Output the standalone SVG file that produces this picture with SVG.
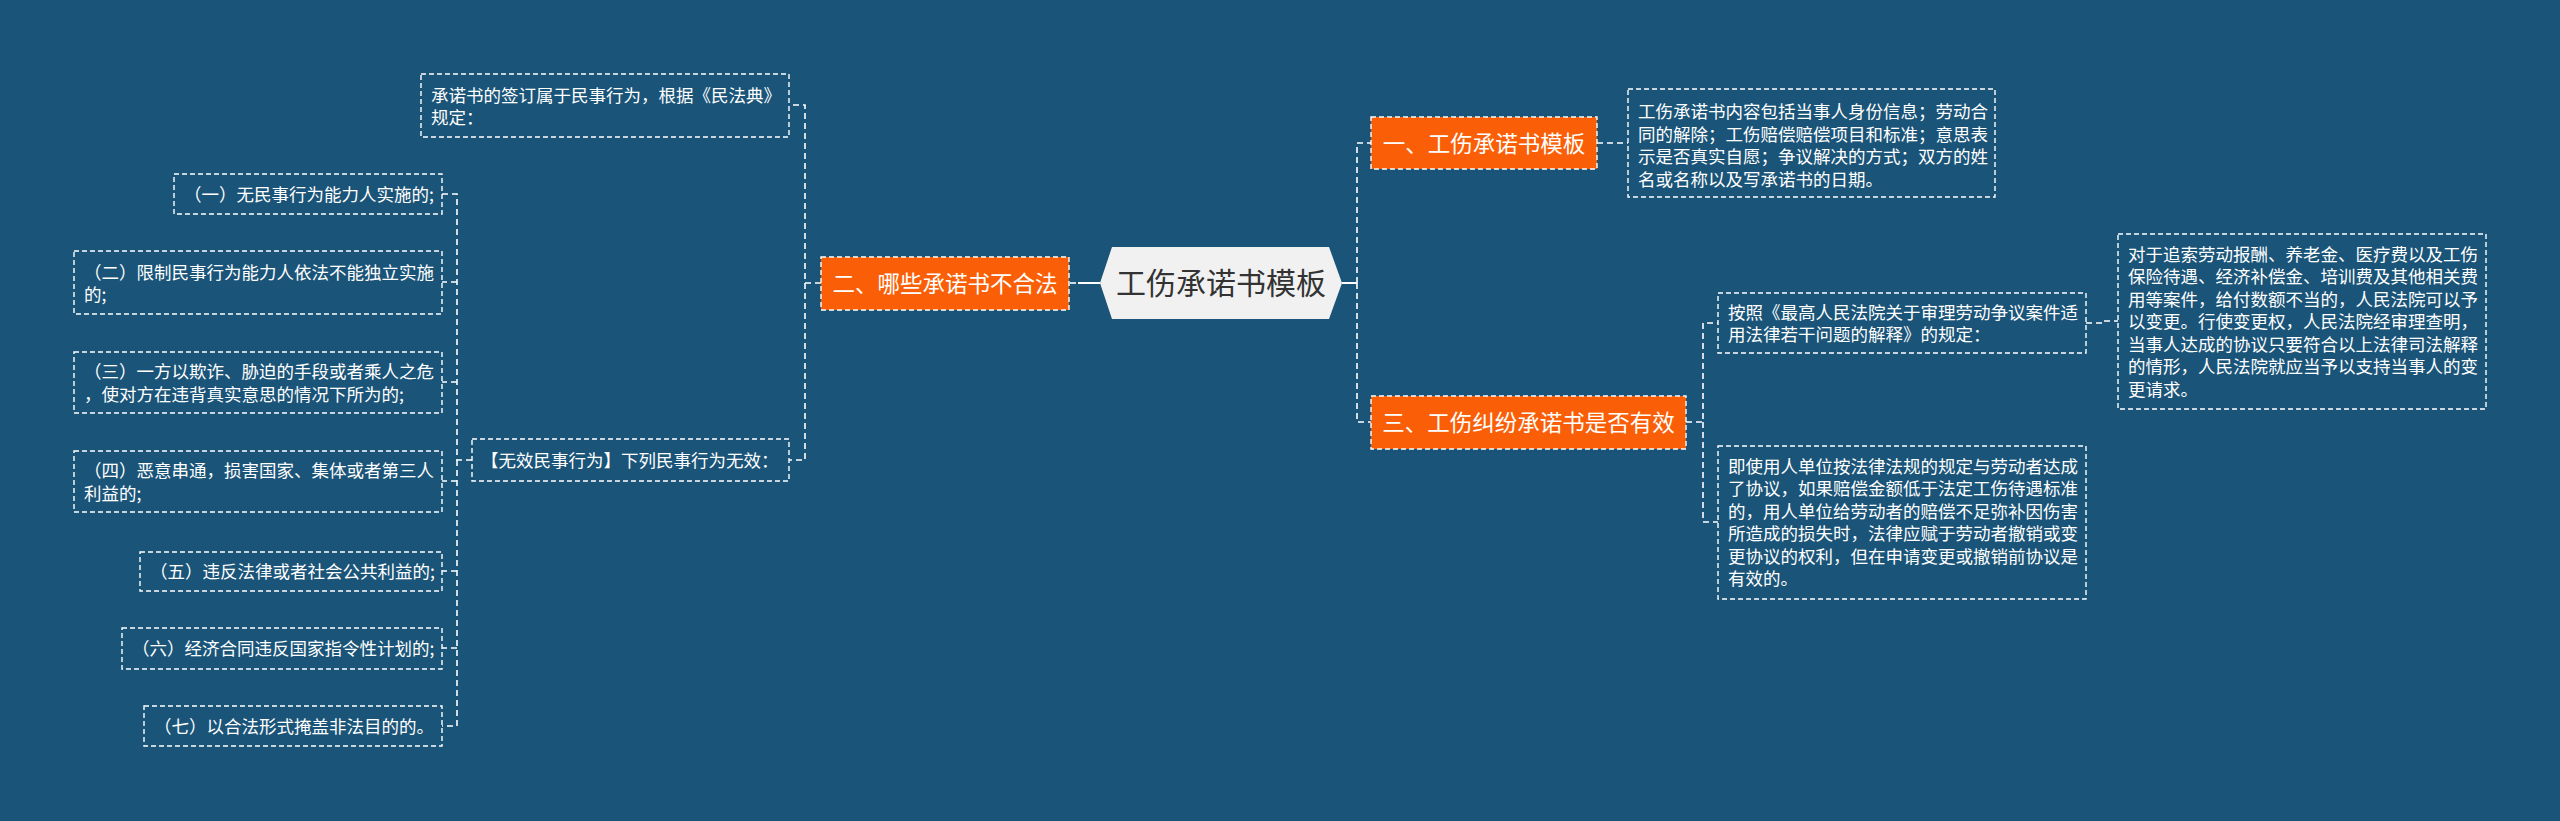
<svg xmlns="http://www.w3.org/2000/svg" width="2560" height="821" viewBox="0 0 2560 821">
<style>
.bg{fill:#1a5478}
.box{fill:none;stroke:#ffffff;stroke-width:1.4;stroke-dasharray:5 3}
.obox{fill:#fa5f08;stroke:#ffffff;stroke-width:1.4;stroke-dasharray:5 3}
.t{font-family:"Noto Sans CJK SC","Noto Sans",sans-serif;font-size:17.5px;fill:#ffffff}
.ot{font-family:"Noto Sans CJK SC","Noto Sans",sans-serif;font-size:22.5px;fill:#ffffff}
.ct{font-family:"Noto Sans CJK SC","Noto Sans",sans-serif;font-size:30px;fill:#333333}
.edge{fill:none;stroke:#ffffff;stroke-width:1.6;stroke-dasharray:6 4}
.solid{fill:none;stroke:#ffffff;stroke-width:2}
</style>
<rect class="bg" x="0" y="0" width="2560" height="821"/>
<g id="connectors">
<path class="solid" d="M1100,283 L1078,283"/>
<path class="edge" d="M1076,283 L1069,283"/>
<path class="solid" d="M1342,283 L1357,283"/>
<path class="edge" d="M1357,283 L1357,143 L1371,143"/>
<path class="edge" d="M1357,283 L1357,422 L1371,422"/>
<path class="edge" d="M1597,143 L1628,143"/>
<path class="edge" d="M1686,422 L1703,422 L1703,323 L1718,323"/>
<path class="edge" d="M1703,422 L1703,522 L1718,522"/>
<path class="edge" d="M2086,323 L2102,323 L2102,321 L2118,321"/>
<path class="edge" d="M821,283 L805,283 L805,105 L789,105"/>
<path class="edge" d="M805,283 L805,460 L789,460"/>
<path class="edge" d="M472,460 L457,460 L457,194 L442,194"/>
<path class="edge" d="M457,282 L442,282"/>
<path class="edge" d="M457,382 L442,382"/>
<path class="edge" d="M457,481 L442,481"/>
<path class="edge" d="M457,571 L442,571"/>
<path class="edge" d="M457,648 L442,648"/>
<path class="edge" d="M457,460 L457,726 L442,726"/>
</g>
<g id="center">
<polygon points="1100,283 1112,247 1329,247 1342,283 1329,319 1112,319" fill="#f1f1f1"/>
<text class="ct" x="1221" y="294" text-anchor="middle">工伤承诺书模板</text>
</g>
<g id="n1">
<rect class="obox" x="1371" y="117" width="226" height="52"/>
<text class="ot" x="1484" y="151.5" text-anchor="middle">一、工伤承诺书模板</text>
</g>
<g id="n1a">
<rect class="box" x="1628" y="89" width="367" height="108"/>
<text class="t" x="1638" y="118">工伤承诺书内容包括当事人身份信息；劳动合</text>
<text class="t" x="1638" y="140.5">同的解除；工伤赔偿赔偿项目和标准；意思表</text>
<text class="t" x="1638" y="163">示是否真实自愿；争议解决的方式；双方的姓</text>
<text class="t" x="1638" y="185.5">名或名称以及写承诺书的日期。</text>
</g>
<g id="n3">
<rect class="obox" x="1371" y="396" width="315" height="53"/>
<text class="ot" x="1528.5" y="431" text-anchor="middle">三、工伤纠纷承诺书是否有效</text>
</g>
<g id="n3a">
<rect class="box" x="1718" y="293" width="368" height="60"/>
<text class="t" x="1728" y="318.5">按照《最高人民法院关于审理劳动争议案件适</text>
<text class="t" x="1728" y="341">用法律若干问题的解释》的规定：</text>
</g>
<g id="n3a1">
<rect class="box" x="2118" y="234" width="368" height="175"/>
<text class="t" x="2128" y="260.5">对于追索劳动报酬、养老金、医疗费以及工伤</text>
<text class="t" x="2128" y="283">保险待遇、经济补偿金、培训费及其他相关费</text>
<text class="t" x="2128" y="305.5">用等案件，给付数额不当的，人民法院可以予</text>
<text class="t" x="2128" y="328">以变更。行使变更权，人民法院经审理查明，</text>
<text class="t" x="2128" y="350.5">当事人达成的协议只要符合以上法律司法解释</text>
<text class="t" x="2128" y="373">的情形，人民法院就应当予以支持当事人的变</text>
<text class="t" x="2128" y="395.5">更请求。</text>
</g>
<g id="n3b">
<rect class="box" x="1718" y="446" width="368" height="153"/>
<text class="t" x="1728" y="472.5">即使用人单位按法律法规的规定与劳动者达成</text>
<text class="t" x="1728" y="495">了协议，如果赔偿金额低于法定工伤待遇标准</text>
<text class="t" x="1728" y="517.5">的，用人单位给劳动者的赔偿不足弥补因伤害</text>
<text class="t" x="1728" y="540">所造成的损失时，法律应赋于劳动者撤销或变</text>
<text class="t" x="1728" y="562.5">更协议的权利，但在申请变更或撤销前协议是</text>
<text class="t" x="1728" y="585">有效的。</text>
</g>
<g id="n2">
<rect class="obox" x="821" y="257" width="248" height="53"/>
<text class="ot" x="945" y="292" text-anchor="middle">二、哪些承诺书不合法</text>
</g>
<g id="n2a">
<rect class="box" x="421" y="74" width="368" height="63"/>
<text class="t" x="431" y="101.5">承诺书的签订属于民事行为，根据《民法典》</text>
<text class="t" x="431" y="124">规定：</text>
</g>
<g id="n2b">
<rect class="box" x="472" y="439" width="317" height="42"/>
<text class="t" x="481" y="466.5">【无效民事行为】下列民事行为无效：</text>
</g>
<g id="c1">
<rect class="box" x="174" y="174" width="268" height="40"/>
<text class="t" x="184" y="200.5">（一）无民事行为能力人实施的;</text>
</g>
<g id="c2">
<rect class="box" x="74" y="251" width="368" height="63"/>
<text class="t" x="84" y="278.5">（二）限制民事行为能力人依法不能独立实施</text>
<text class="t" x="84" y="301">的;</text>
</g>
<g id="c3">
<rect class="box" x="74" y="352" width="368" height="61"/>
<text class="t" x="84" y="378">（三）一方以欺诈、胁迫的手段或者乘人之危</text>
<text class="t" x="84" y="400.5">，使对方在违背真实意思的情况下所为的;</text>
</g>
<g id="c4">
<rect class="box" x="74" y="451" width="368" height="61"/>
<text class="t" x="84" y="477">（四）恶意串通，损害国家、集体或者第三人</text>
<text class="t" x="84" y="499.5">利益的;</text>
</g>
<g id="c5">
<rect class="box" x="140" y="552" width="302" height="39"/>
<text class="t" x="150" y="578">（五）违反法律或者社会公共利益的;</text>
</g>
<g id="c6">
<rect class="box" x="122" y="628" width="320" height="41"/>
<text class="t" x="132" y="655">（六）经济合同违反国家指令性计划的;</text>
</g>
<g id="c7">
<rect class="box" x="144" y="706" width="298" height="40"/>
<text class="t" x="154" y="732.5">（七）以合法形式掩盖非法目的的。</text>
</g>
</svg>
